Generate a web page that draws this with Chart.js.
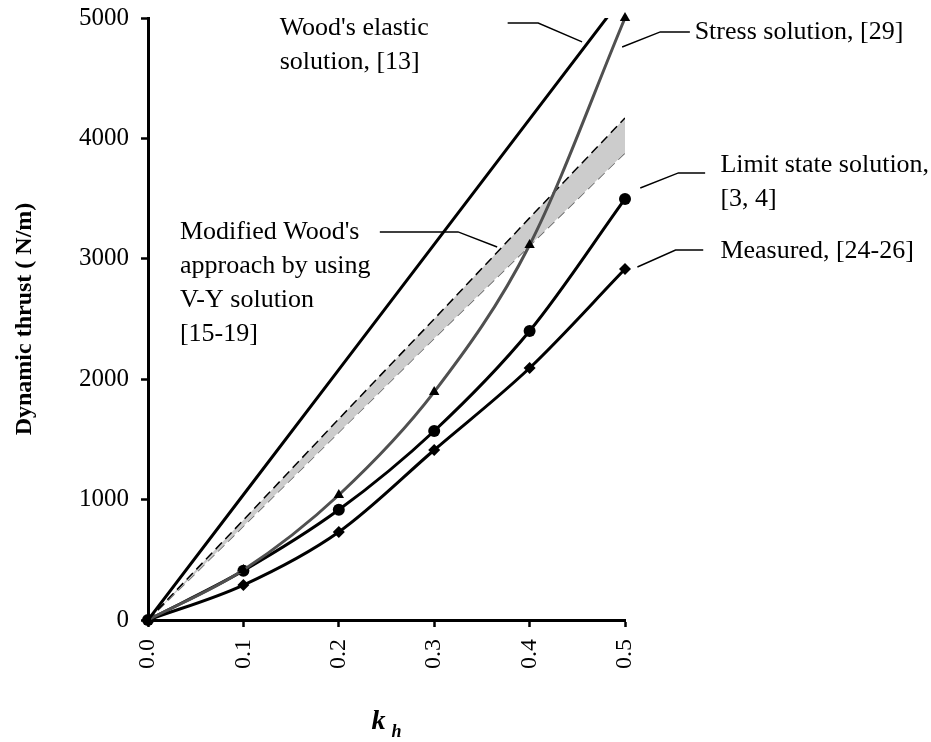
<!DOCTYPE html>
<html>
<head>
<meta charset="utf-8">
<script src="https://cdn.jsdelivr.net/npm/chart.js@4"></script>
<style>
  html, body { margin: 0; padding: 0; background: #fff; }
  canvas { display: block; }
</style>
</head>
<body>
<canvas id="thrustCanvas" width="931" height="742"></canvas>
<script>
// values
var kh = [0, 0.1, 0.2, 0.3, 0.4, 0.5];
var woodElastic = [0, 1040, 2080, 3120, 4160, 5200];
var stressSol = [0, 415, 1038, 1894, 3115, 5000];
var limitState = [0, 410, 915, 1570, 2400, 3497];
var measured = [0, 290, 731, 1412, 2093, 2915];
var modWoodUpper = [0, 830, 1670, 2500, 3340, 4170];
var modWoodLower = [0, 780, 1560, 2340, 3110, 3880];
var yTicks = [0, 1000, 2000, 3000, 4000, 5000];

var serif = "'Liberation Serif', 'Times New Roman', serif";

function pts(ys) {
    return kh.map(function (x, i) { return { x: x, y: ys[i] }; });
}

// callouts, anchored in data units: text lines + leader polyline
var notes = [
    { text: ["Wood's elastic", "solution, [13]"], at: [0.138, 4917],
      leader: [[0.377, 4958], [0.409, 4958], [0.455, 4801]] },
    { text: ["Stress solution, [29]"], at: [0.573, 4884],
      leader: [[0.497, 4759], [0.537, 4884], [0.568, 4884]] },
    { text: ["Limit state solution,", "[3, 4]"], at: [0.600, 3779],
      leader: [[0.516, 3588], [0.556, 3713], [0.584, 3713]] },
    { text: ["Measured, [24-26]"], at: [0.600, 3065],
      leader: [[0.513, 2932], [0.553, 3073], [0.582, 3073]] },
    { text: ["Modified Wood's", "approach by using", "V-Y solution", "[15-19]"], at: [0.0335, 3223],
      leader: [[0.243, 3223], [0.325, 3223], [0.366, 3098]] }
];

var calloutPlugin = {
    id: 'callouts',
    afterDraw: function (chart) {
        var c = chart.ctx, xs = chart.scales.x, ys = chart.scales.y;
        c.save();
        c.fillStyle = '#000';
        c.strokeStyle = '#000';
        c.lineWidth = 1.4;
        c.font = '26px ' + serif;
        c.textBaseline = 'middle';
        c.textAlign = 'left';
        notes.forEach(function (n) {
            var x0 = xs.getPixelForValue(n.at[0]);
            var y0 = ys.getPixelForValue(n.at[1]);
            n.text.forEach(function (t, i) { c.fillText(t, x0, y0 + i * 34); });
            c.beginPath();
            n.leader.forEach(function (p, i) {
                var px = xs.getPixelForValue(p[0]), py = ys.getPixelForValue(p[1]);
                if (i === 0) c.moveTo(px, py); else c.lineTo(px, py);
            });
            c.stroke();
        });
        // x axis title: k with subscript h
        var cx = (chart.chartArea.left + chart.chartArea.right) / 2;
        c.font = 'italic bold 28px ' + serif;
        c.textBaseline = 'alphabetic';
        c.fillText('k', cx - 15, 729);
        c.font = 'italic bold 18px ' + serif;
        c.fillText('h', cx + 5, 737);
        c.restore();
    }
};

new Chart(document.getElementById('thrustCanvas'), {
    type: 'line',
    data: {
        datasets: [
            { label: "Wood's elastic solution", data: pts(woodElastic), borderColor: '#000',
              borderWidth: 3, pointRadius: 0, tension: 0, order: 1 },
            { label: 'Stress solution', data: pts(stressSol), borderColor: '#505050',
              borderWidth: 3, pointStyle: 'triangle', pointRadius: 6, pointBackgroundColor: '#000',
              pointBorderColor: '#000', pointBorderWidth: 0, cubicInterpolationMode: 'monotone',
              clip: 12, order: 2 },
            { label: 'Limit state solution', data: pts(limitState), borderColor: '#000',
              borderWidth: 3, pointStyle: 'circle', pointRadius: 6, pointBackgroundColor: '#000',
              pointBorderColor: '#000', pointBorderWidth: 0, cubicInterpolationMode: 'monotone',
              clip: 12, order: 3 },
            { label: 'Measured', data: pts(measured), borderColor: '#000',
              borderWidth: 3, pointStyle: 'rectRot', pointRadius: 6, pointBackgroundColor: '#000',
              pointBorderColor: '#000', pointBorderWidth: 0, cubicInterpolationMode: 'monotone',
              clip: 12, order: 4 },
            { label: "Modified Wood's (upper)", data: pts(modWoodUpper), borderColor: '#000',
              borderWidth: 1.5, borderDash: [9, 5], pointRadius: 0, tension: 0,
              fill: '+1', backgroundColor: '#cccccc', order: 5 },
            { label: "Modified Wood's (lower)", data: pts(modWoodLower), borderColor: '#666',
              borderWidth: 1.5, borderDash: [9, 5], pointRadius: 0, tension: 0,
              fill: false, order: 6 }
        ]
    },
    options: {
        responsive: false,
        animation: false,
        devicePixelRatio: 1,
        layout: { padding: { left: 0, top: 18, right: 306, bottom: 0 } },
        plugins: { legend: { display: false }, tooltip: { enabled: false } },
        scales: {
            x: {
                type: 'linear', min: 0, max: 0.5,
                afterFit: function (s) { s.height = 122; s.paddingLeft = 0; s.paddingRight = 0; },
                afterBuildTicks: function (s) { s.ticks = kh.map(function (v) { return { value: v }; }); },
                grid: { drawOnChartArea: false, drawTicks: true, tickLength: 7, tickWidth: 2.5, color: '#000' },
                border: { color: '#000', width: 3 },
                ticks: {
                    minRotation: 90, maxRotation: 90, padding: 12, color: '#000',
                    font: { family: serif, size: 24 },
                    callback: function (v) { return v.toFixed(1); }
                }
            },
            y: {
                min: 0, max: 5000,
                afterFit: function (s) { s.width = 148; s.paddingTop = 0; s.paddingBottom = 0; },
                afterBuildTicks: function (s) { s.ticks = yTicks.map(function (v) { return { value: v }; }); },
                grid: { drawOnChartArea: false, drawTicks: true, tickLength: 7, tickWidth: 2.5, color: '#000' },
                border: { color: '#000', width: 3 },
                ticks: {
                    padding: 12, color: '#000', font: { family: serif, size: 25 },
                    callback: function (v) { return String(v); }
                },
                title: {
                    display: true, text: 'Dynamic thrust ( N/m)', color: '#000',
                    font: { family: serif, size: 24, weight: 'bold' }, padding: { top: 10, bottom: 0 }
                }
            }
        }
    },
    plugins: [calloutPlugin]
});
</script>
</body>
</html>
